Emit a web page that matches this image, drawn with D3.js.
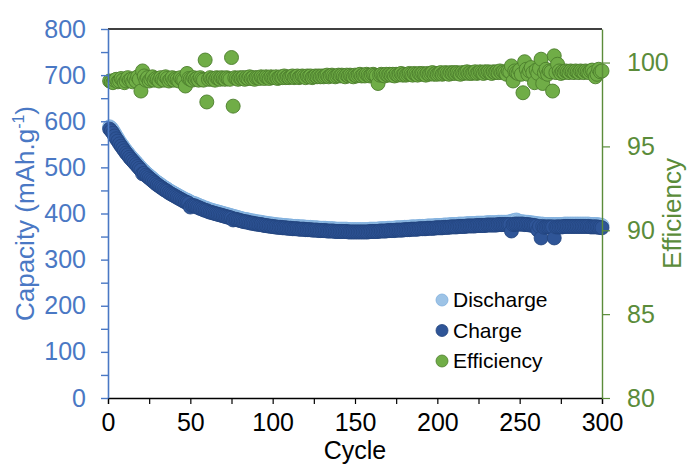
<!DOCTYPE html>
<html>
<head>
<meta charset="utf-8">
<script src="https://cdn.jsdelivr.net/npm/d3@7"></script>
<style>
  html, body { margin: 0; padding: 0; background: #fff; }
  svg { display: block; font-family: "Liberation Sans", Arial, sans-serif; }
</style>
</head>
<body>
<svg id="chart" width="688" height="464"></svg>
<script>
// Charge capacity per cycle (mAh/g), cycles 1..300
const chargeCapacity = [
  583,579,574,568,562,557,551,546,541,536,
  531,527,522,518,514,510,506,502,498,494,
  486,487,483,480,477,474,471,468,465,462,
  460,457,455,452,450,448,445,443,441,439,
  437,435,433,431,429,427,425,424,422,414,
  418,417,416,414,413,411,410,408,407,406,
  404,403,402,401,400,399,398,397,396,395,
  394,393,392,391,390,386,388,387,386,385,
  384,383,382,382,381,380,379,379,378,377,
  377,376,376,375,374,374,373,373,372,372,
  371,371,370,370,370,369,369,369,368,368,
  368,367,367,367,367,366,366,366,366,365,
  365,365,365,364,364,364,364,363,363,363,
  363,363,362,362,362,362,362,361,361,361,
  361,361,361,361,361,360,360,360,360,360,
  360,360,360,360,360,360,360,360,361,361,
  361,361,361,361,362,362,362,362,362,363,
  363,363,363,363,364,364,364,364,364,365,
  365,365,365,366,366,366,366,366,367,367,
  367,367,367,368,368,368,368,368,369,369,
  369,369,369,370,370,370,370,371,371,371,
  371,371,372,372,372,372,372,373,373,373,
  373,373,373,374,374,374,374,374,374,375,
  375,375,375,375,375,375,376,376,376,376,
  376,376,376,376,362,376,377,377,377,377,
  377,377,376,376,376,375,375,374,374,373,
  364,372,347,372,370,371,371,371,371,371,
  347,371,371,371,371,371,372,372,372,372,
  372,372,372,372,372,372,372,372,372,372,
  372,372,371,371,371,371,371,370,370,369
];

// Discharge capacity per cycle (mAh/g)
const dischargeCapacity = [
  588,585,580,574,568,562,556,551,546,541,
  536,532,527,523,519,515,511,507,503,499,
  495,492,488,485,482,479,476,473,470,467,
  465,462,460,457,455,453,450,448,446,444,
  442,440,438,436,434,432,430,429,427,425,
  423,422,421,419,418,416,415,413,412,411,
  409,408,407,406,405,404,403,402,401,400,
  399,398,397,396,395,394,393,392,391,390,
  389,388,387,387,386,385,384,384,383,382,
  382,381,381,380,379,379,378,378,377,377,
  376,376,375,375,375,374,374,374,373,373,
  373,372,372,372,372,371,371,371,371,370,
  370,370,370,369,369,369,369,368,368,368,
  368,368,367,367,367,367,367,366,366,366,
  366,366,366,366,366,365,365,365,365,365,
  365,365,365,365,365,365,365,365,366,366,
  366,366,366,366,367,367,367,367,367,368,
  368,368,368,368,369,369,369,369,369,370,
  370,370,370,371,371,371,371,371,372,372,
  372,372,372,373,373,373,373,373,374,374,
  374,374,374,375,375,375,375,376,376,376,
  376,376,377,377,377,377,377,378,378,378,
  378,378,378,379,379,379,379,379,379,380,
  380,380,380,380,380,380,381,381,381,381,
  381,381,381,382,383,384,385,386,384,382,
  382,382,381,381,381,380,380,379,379,378,
  378,377,377,377,376,376,376,376,376,376,
  376,376,376,376,376,376,377,377,377,377,
  377,377,377,377,377,377,377,377,377,377,
  377,377,376,376,376,376,376,375,375,374
];

// Coulombic efficiency per cycle (%)
const efficiency = [
  98.9,98.85,98.8,98.95,99.0,98.85,98.9,99.05,98.95,98.8,
  98.9,99.1,98.95,99.0,98.85,99.05,98.9,99.15,99.0,98.3,
  99.5,99.2,98.95,99.1,98.9,99.0,99.15,98.95,99.05,99.0,
  98.9,99.1,99.0,98.95,99.15,99.05,98.9,99.0,99.1,98.95,
  99.05,99.0,98.9,99.1,99.0,98.95,98.6,99.35,99.05,99.0,
  98.95,99.1,99.0,99.05,98.95,99.1,99.0,98.95,100.15,97.65,
  99.0,99.1,99.0,99.05,98.95,99.1,99.05,99.0,99.1,99.05,
  99.0,99.1,99.05,99.0,100.3,97.4,99.1,99.05,99.0,99.1,
  99.05,99.1,99.0,99.1,99.05,99.15,99.05,99.1,99.0,99.1,
  99.1,99.05,99.15,99.1,99.05,99.15,99.1,99.05,99.15,99.1,
  99.1,99.15,99.05,99.1,99.15,99.1,99.2,99.1,99.15,99.1,
  99.15,99.2,99.1,99.15,99.2,99.1,99.15,99.2,99.15,99.1,
  99.2,99.15,99.2,99.1,99.15,99.2,99.15,99.2,99.15,99.2,
  99.15,99.2,99.25,99.15,99.2,99.25,99.2,99.15,99.2,99.25,
  99.2,99.25,99.2,99.15,99.25,99.2,99.25,99.2,99.15,99.25,
  99.2,99.25,99.3,99.2,99.25,99.2,99.3,99.25,99.2,99.25,
  99.3,99.25,99.2,98.75,99.25,99.3,99.25,99.2,99.3,99.25,
  99.3,99.25,99.3,99.2,99.3,99.25,99.3,99.35,99.25,99.3,
  99.25,99.3,99.35,99.3,99.25,99.35,99.3,99.25,99.35,99.3,
  99.35,99.3,99.25,99.35,99.3,99.35,99.4,99.3,99.35,99.3,
  99.35,99.4,99.3,99.35,99.4,99.35,99.3,99.4,99.35,99.4,
  99.35,99.4,99.35,99.3,99.4,99.35,99.4,99.45,99.35,99.4,
  99.35,99.4,99.45,99.35,99.4,99.45,99.4,99.35,99.45,99.4,
  99.45,99.4,99.35,99.45,99.4,99.45,99.4,99.5,99.4,99.45,
  99.4,99.3,99.5,99.45,99.8,98.9,99.5,99.4,99.35,99.55,
  99.3,98.2,100.05,99.6,99.3,99.5,99.7,99.4,98.8,99.55,
  99.35,99.65,100.2,98.75,99.4,99.6,99.3,99.5,99.45,98.3,
  100.4,99.4,99.9,99.5,99.35,99.45,99.4,99.5,99.45,99.4,
  99.5,99.45,99.4,99.5,99.45,99.4,99.5,99.45,99.4,99.5,
  99.45,99.4,99.5,99.55,99.4,99.15,99.3,99.6,99.45,99.5
];

const cycles = d3.range(1, chargeCapacity.length + 1);

const capacityTicks = [0, 100, 200, 300, 400, 500, 600, 700, 800];
const capacityMinorTicks = [0, 50, 100, 150, 200, 250, 300, 350, 400, 450, 500, 550, 600, 650, 700, 750, 800];
const efficiencyTicks = [80, 85, 90, 95, 100];
const cycleTicks = [0, 50, 100, 150, 200, 250, 300];
const cycleMinorTicks = [0, 25, 50, 75, 100, 125, 150, 175, 200, 225, 250, 275, 300];

const legendItems = ["Discharge", "Charge", "Efficiency"];

// colours
const blueAxis = "#4A78C4";
const greenAxis = "#5B8C3A";
const colDischarge = { fill: "#9DC3E6", stroke: "#7FAEDD" };
const colCharge = { fill: "#2F5597", stroke: "#22447E" };
const colEff = { fill: "#70AD47", stroke: "#4C7E2C" };
const legendColors = [colDischarge, colCharge, colEff];

const margin = { left: 108, right: 86, top: 29, bottom: 66 };
const W = 688, H = 464;
const x0 = margin.left, x1 = W - margin.right;
const y0 = margin.top, y1 = H - margin.bottom;

const svg = d3.select("#chart");

const x = d3.scaleLinear().domain([0, 300]).range([x0, x1]);
const yCap = d3.scaleLinear().domain([0, 800]).range([y1, y0]);
const yEff = d3.scaleLinear().domain([80, 102]).range([y1, y0]);

const R = 7;

// top frame line
svg.append("line")
  .attr("x1", x0).attr("x2", x1).attr("y1", y0).attr("y2", y0)
  .attr("stroke", "#000").attr("stroke-width", 1.3);

// data: discharge under charge, efficiency on its own axis
svg.append("g").selectAll("circle")
  .data(cycles)
  .join("circle")
  .attr("cx", d => x(d))
  .attr("cy", (d, i) => yCap(dischargeCapacity[i]))
  .attr("r", R)
  .attr("fill", colDischarge.fill)
  .attr("stroke", colDischarge.stroke)
  .attr("stroke-width", 0.8);

svg.append("g").selectAll("circle")
  .data(cycles)
  .join("circle")
  .attr("cx", d => x(d))
  .attr("cy", (d, i) => yCap(chargeCapacity[i]))
  .attr("r", R)
  .attr("fill", colCharge.fill)
  .attr("stroke", colCharge.stroke)
  .attr("stroke-width", 0.8);

svg.append("g").selectAll("circle")
  .data(cycles)
  .join("circle")
  .attr("cx", d => x(d))
  .attr("cy", (d, i) => yEff(efficiency[i]))
  .attr("r", R)
  .attr("fill", colEff.fill)
  .attr("stroke", colEff.stroke)
  .attr("stroke-width", 0.9);

// bottom axis (black)
const gx = svg.append("g")
  .attr("transform", `translate(0,${y1})`)
  .call(d3.axisBottom(x).tickValues(cycleMinorTicks).tickSize(6).tickPadding(9)
    .tickFormat(d => cycleTicks.includes(d) ? d : ""));
gx.select(".domain").attr("stroke", "#000").attr("stroke-width", 1.3);
gx.selectAll(".tick line").attr("stroke", "#000").attr("stroke-width", 1.2);
gx.selectAll(".tick text").attr("fill", "#000")
  .style("font-size", "25px").style("font-family", "Liberation Sans, Arial, sans-serif");

// left axis (blue)
const gl = svg.append("g")
  .attr("transform", `translate(${x0},0)`)
  .call(d3.axisLeft(yCap).tickValues(capacityMinorTicks).tickSize(7).tickSizeOuter(0).tickPadding(15)
    .tickFormat(d => capacityTicks.includes(d) ? d : ""));
gl.select(".domain").attr("stroke", blueAxis).attr("stroke-width", 1.6);
gl.selectAll(".tick line").attr("stroke", blueAxis).attr("stroke-width", 1.4);
gl.selectAll(".tick text").attr("fill", blueAxis)
  .style("font-size", "25px").style("font-family", "Liberation Sans, Arial, sans-serif");

// right axis (green)
const gr = svg.append("g")
  .attr("transform", `translate(${x1},0)`)
  .call(d3.axisRight(yEff).tickValues(efficiencyTicks).tickSize(8).tickSizeOuter(0).tickPadding(17));
gr.select(".domain").attr("stroke", greenAxis).attr("stroke-width", 1.4);
gr.selectAll(".tick line").attr("stroke", greenAxis).attr("stroke-width", 1.2);
gr.selectAll(".tick text").attr("fill", greenAxis)
  .style("font-size", "25px").style("font-family", "Liberation Sans, Arial, sans-serif");

// axis titles
svg.append("text")
  .attr("x", (x0 + x1) / 2).attr("y", 459)
  .attr("text-anchor", "middle")
  .attr("fill", "#000").style("font-size", "25px")
  .text("Cycle");

const capTitle = svg.append("text")
  .attr("transform", `translate(34,${(y0 + y1) / 2}) rotate(-90)`)
  .attr("text-anchor", "middle")
  .attr("fill", blueAxis).style("font-size", "26px");
capTitle.append("tspan").text("Capacity (mAh.g");
capTitle.append("tspan").attr("dy", -10).style("font-size", "16px").text("-1");
capTitle.append("tspan").attr("dy", 10).text(")");

svg.append("text")
  .attr("transform", `translate(681,${(y0 + y1) / 2}) rotate(-90)`)
  .attr("text-anchor", "middle")
  .attr("fill", greenAxis).style("font-size", "26px")
  .text("Efficiency");

// legend
const lg = svg.append("g").attr("transform", "translate(442,300)");
legendItems.forEach((name, i) => {
  const row = lg.append("g").attr("transform", `translate(0,${i * 30.5})`);
  row.append("circle").attr("r", 6).attr("fill", legendColors[i].fill)
    .attr("stroke", legendColors[i].stroke).attr("stroke-width", 0.8);
  row.append("text").attr("x", 11).attr("dy", "0.35em")
    .attr("fill", "#000").style("font-size", "21px").text(name);
});
</script>
</body>
</html>
